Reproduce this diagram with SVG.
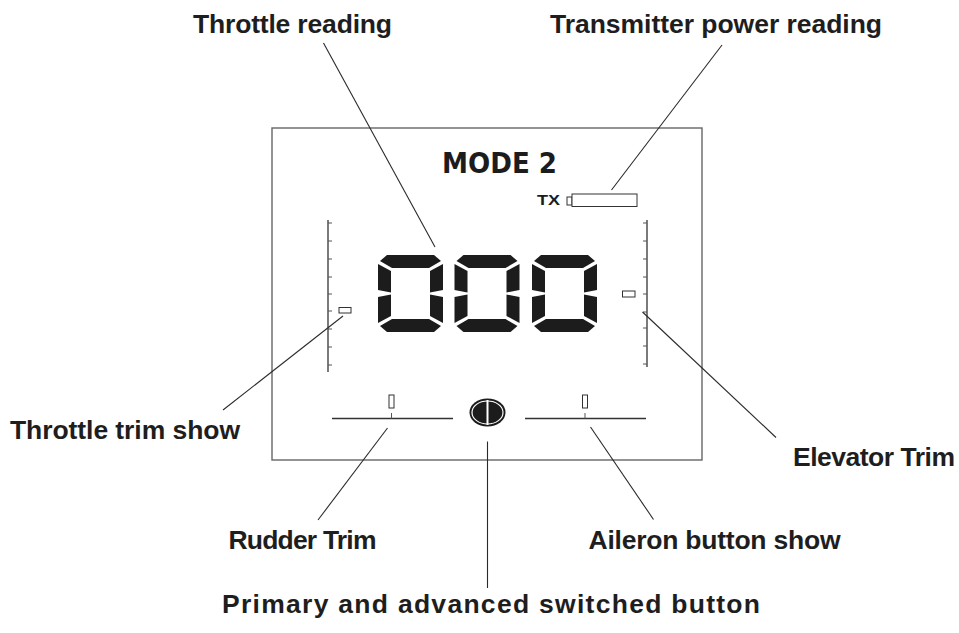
<svg xmlns="http://www.w3.org/2000/svg" xmlns:xlink="http://www.w3.org/1999/xlink" width="959" height="633" viewBox="0 0 959 633">
<style>
.lbl{font-family:"Liberation Sans",Arial,sans-serif;font-weight:bold;font-size:26.5px;fill:#1e1e1e}
.lead{stroke:#2a2a2a;stroke-width:1.1;fill:none}
.frame{stroke:#666;stroke-width:1.4;fill:none}
.scale{stroke:#333;stroke-width:1.3;fill:none}
.tick{stroke:#555;stroke-width:1;fill:none}
.seg{fill:#1c1c1c}
.ind{fill:#fff;stroke:#333;stroke-width:1}
</style>
<defs>
<g id="digit0">
<polygon class="seg" points="9,0 56,0 63,6 51,13 14,13 2,6"/>
<polygon class="seg" points="0,9 13,16 13,37.5 0,35"/>
<polygon class="seg" points="0,42 13,39.5 13,61 0,68"/>
<polygon class="seg" points="2,71 14,64 51,64 63,71 56,77 9,77"/>
<polygon class="seg" points="65,9 52,16 52,37.5 65,35"/>
<polygon class="seg" points="65,42 52,39.5 52,61 65,68"/>
</g>
</defs>
<rect width="959" height="633" fill="#fff"/>

<g id="display">
<rect class="frame" x="272" y="128" width="430" height="332"/>
</g>

<g id="mode">
<text x="442" y="173" font-family="DejaVu Sans,sans-serif" font-weight="bold" font-size="27.5" fill="#1c1c1c" textLength="115" lengthAdjust="spacingAndGlyphs">MODE 2</text>
</g>

<g id="tx">
<text x="537" y="205" font-family="Liberation Sans,Arial,sans-serif" font-weight="bold" font-size="14" fill="#1c1c1c" textLength="23" lengthAdjust="spacingAndGlyphs">TX</text>
<rect class="ind" x="567" y="197" width="5" height="8"/>
<rect class="ind" x="572" y="194" width="65" height="12.5"/>
</g>

<g id="throttle-display">
<use xlink:href="#digit0" x="378" y="255"/>
<use xlink:href="#digit0" x="454.5" y="255"/>
<use xlink:href="#digit0" x="532" y="255"/>
</g>

<g id="left-scale">
<line class="scale" x1="328" y1="220" x2="328" y2="372"/>
<path class="tick" d="M328 223h4M328 241h4M328 259h4M328 277h4M328 294h4M328 311h4M328 329h4M328 347h4M328 365h4"/>
<rect class="ind" x="339" y="307.5" width="12" height="5.5"/>
</g>

<g id="right-scale">
<line class="scale" x1="647" y1="220" x2="647" y2="367"/>
<path class="tick" d="M647 223h-4M647 241h-4M647 259h-4M647 277h-4M647 294h-4M647 312h-4M647 328h-4M647 346h-4M647 364h-4"/>
<rect class="ind" x="622.5" y="291" width="12.5" height="6"/>
</g>

<g id="rudder-scale">
<line class="scale" x1="332" y1="418.5" x2="453" y2="418.5"/>
<line class="tick" x1="391.5" y1="413" x2="391.5" y2="418.5"/>
<rect class="ind" x="389" y="395" width="5" height="13"/>
</g>

<g id="aileron-scale">
<line class="scale" x1="525" y1="418.5" x2="646" y2="418.5"/>
<line class="tick" x1="585" y1="413" x2="585" y2="418.5"/>
<rect class="ind" x="582.5" y="395" width="5" height="13"/>
</g>

<g id="switch-button">
<ellipse cx="487.5" cy="412.5" rx="18" ry="14" fill="#1c1c1c"/>
<ellipse cx="487.5" cy="412.5" rx="15.5" ry="11.5" fill="none" stroke="#fff" stroke-width="1.2"/>
<line x1="487.5" y1="400" x2="487.5" y2="425" stroke="#fff" stroke-width="2"/>
</g>

<g id="connectors">
<line class="lead" x1="323.5" y1="43" x2="435" y2="247"/>
<line class="lead" x1="722" y1="45" x2="611.5" y2="190"/>
<line class="lead" x1="343" y1="316" x2="223" y2="410"/>
<line class="lead" x1="642.5" y1="312" x2="776" y2="437.5"/>
<line class="lead" x1="387.5" y1="428" x2="318" y2="520"/>
<line class="lead" x1="487.5" y1="441.5" x2="487.5" y2="588"/>
<line class="lead" x1="590.5" y1="427" x2="653.5" y2="519.5"/>
</g>

<g id="labels">
<text class="lbl" x="193" y="33" textLength="199" lengthAdjust="spacing">Throttle reading</text>
<text class="lbl" x="550" y="33" textLength="332" lengthAdjust="spacing">Transmitter power reading</text>
<text class="lbl" x="10" y="438.5" textLength="230" lengthAdjust="spacing">Throttle trim show</text>
<text class="lbl" x="793" y="465.5" textLength="162" lengthAdjust="spacing">Elevator Trim</text>
<text class="lbl" x="228.5" y="548.5" textLength="148" lengthAdjust="spacing">Rudder Trim</text>
<text class="lbl" x="588.5" y="548.5" textLength="252" lengthAdjust="spacing">Aileron button show</text>
<text class="lbl" x="222" y="613" textLength="538" lengthAdjust="spacing">Primary and advanced switched button</text>
</g>
</svg>
